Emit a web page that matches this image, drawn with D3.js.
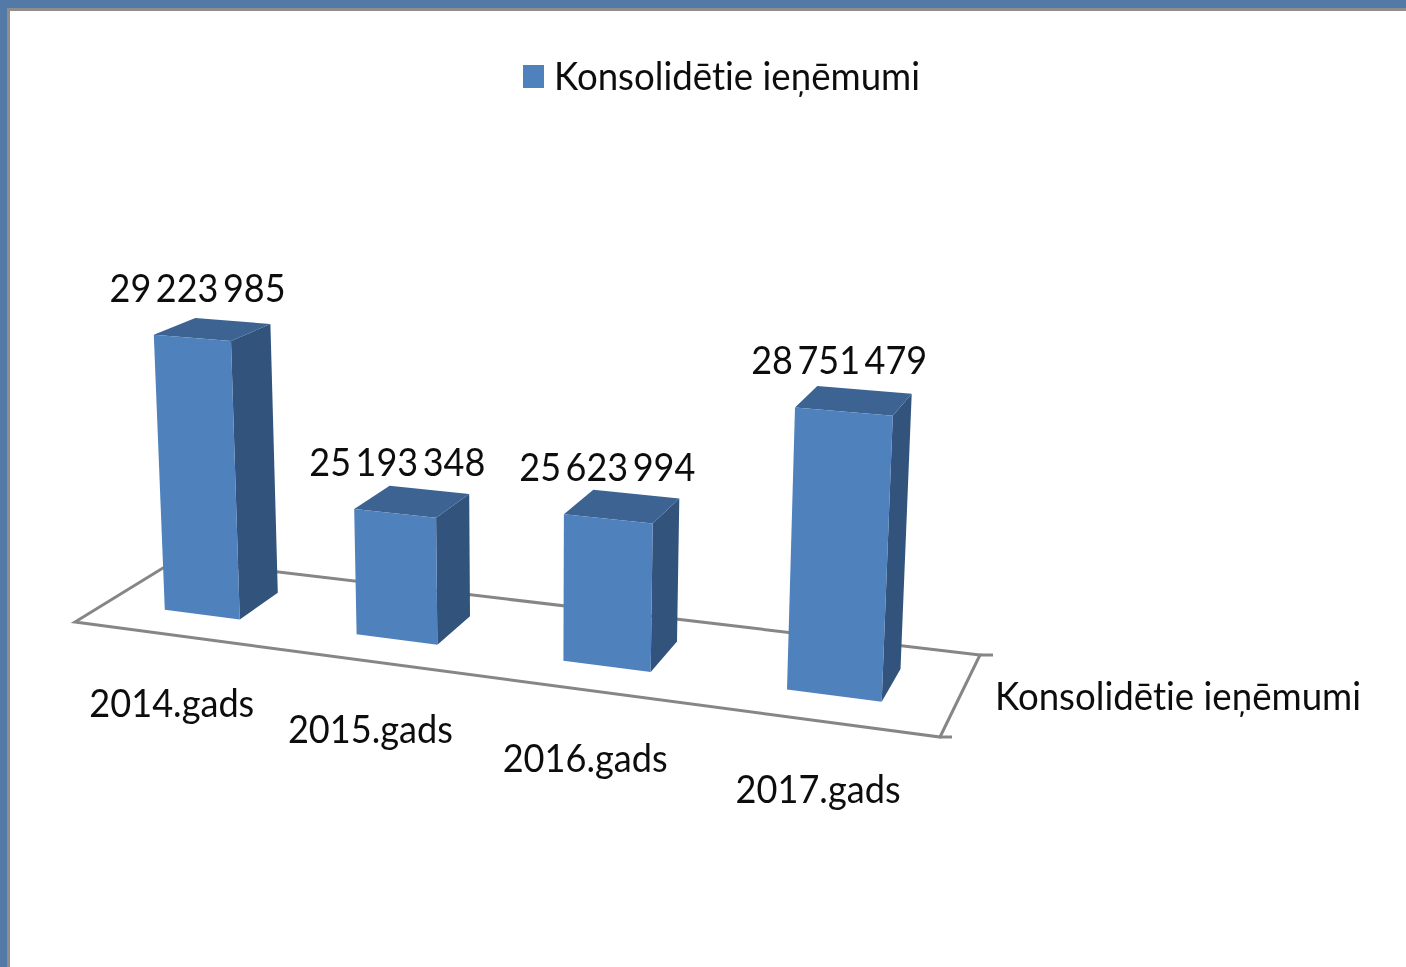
<!DOCTYPE html>
<html lang="lv">
<head>
<meta charset="utf-8">
<title>Konsolidētie ieņēmumi</title>
<script src="https://cdn.jsdelivr.net/npm/d3@7/dist/d3.min.js"></script>
<style>
html,body{margin:0;padding:0;background:#fff;overflow:hidden}
svg{display:block}
text{font-family:Lato,"Open Sans",sans-serif;fill:#111;font-variant-ligatures:none}
</style>
</head>
<body>
<svg id="chart" width="1406" height="967"></svg>
<script>
const seriesName = "Konsolidētie ieņēmumi";
const categories = ["2014.gads", "2015.gads", "2016.gads", "2017.gads"];
const values = [29223985, 25193348, 25623994, 28751479];

const W = 1406, H = 967;
const svg = d3.select("#chart").attr("viewBox", [0, 0, W, H]);
const C = {front:"#4f81bd", top:"#3e6493", side:"#30527c", floor:"#868686", frame:"#5379a6", frameEdge:"#8e8e8e"};

const defs = svg.append("defs");
defs.append("filter").attr("id","soft").attr("x","-5%").attr("y","-5%").attr("width","110%").attr("height","110%")
  .append("feGaussianBlur").attr("stdDeviation",0.7);

// page frame
svg.append("rect").attr("width",W).attr("height",H).attr("fill",C.frame);
svg.append("rect").attr("x",7).attr("y",8).attr("width",W).attr("height",H).attr("fill",C.frameEdge);
svg.append("rect").attr("x",10).attr("y",11).attr("width",W).attr("height",H).attr("fill","#fff");

// floor plane: unit square (u along categories, w into depth) -> screen
const quad = [[75,622],[940,737],[980,655],[176,560]];
function homography(q){
  const [[x0,y0],[x1,y1],[x2,y2],[x3,y3]] = q;
  const dx1=x1-x2, dx2=x3-x2, sx=x0-x1+x2-x3, dy1=y1-y2, dy2=y3-y2, sy=y0-y1+y2-y3;
  const den=dx1*dy2-dx2*dy1, g=(sx*dy2-dx2*sy)/den, h=(dx1*sy-sx*dy1)/den;
  const a=x1-x0+g*x1, b=x3-x0+h*x3, d=y1-y0+g*y1, e=y3-y0+h*y3;
  return (u,w)=>{const k=g*u+h*w+1; return [(a*u+b*w+x0)/k,(d*u+e*w+y0)/k];};
}
const floor = homography(quad);

const xBand = d3.scaleBand().domain(categories).range([0.004,1.002]).paddingInner(0.6).paddingOuter(0.3);
const depth = {front:0.30, back:0.71};
const yVal = d3.scaleLinear().domain([22000000,30000000]).range([0,312]);
const persp = d3.scaleLinear().domain([164,788]).range([0.977,1.072]);
const vp = [530,9766];
const backShrink = 0.96;

function pt(u,w,v){
  const F = floor(u,w);
  const dx=F[0]-vp[0], dy=F[1]-vp[1], len=Math.hypot(dx,dy);
  const wf = w===depth.back ? backShrink : 1;
  const hPx = yVal(v)*persp(F[0])*wf;
  return [F[0]+dx/len*hPx, F[1]+dy/len*hPx];
}
const path = ps => "M"+ps.map(p=>p[0].toFixed(1)+","+p[1].toFixed(1)).join("L")+"Z";

const plot = svg.append("g").attr("filter","url(#soft)");

// floor outline + tick stubs
const flLine = plot.append("g").attr("fill","none").attr("stroke",C.floor).attr("stroke-width",3);
flLine.append("path").attr("d",path(quad));
flLine.append("line").attr("x1",quad[2][0]).attr("y1",quad[2][1]).attr("x2",quad[2][0]+13).attr("y2",quad[2][1]);
flLine.append("line").attr("x1",quad[1][0]).attr("y1",quad[1][1]).attr("x2",quad[1][0]+12).attr("y2",quad[1][1]);

// bars
const rows = categories.map((c,i)=>({c,v:values[i]}));
const bars = plot.selectAll("g.bar").data(rows).join("g").attr("class","bar");
bars.each(function(d){
  const g=d3.select(this), u0=xBand(d.c), u1=u0+xBand.bandwidth(), wF=depth.front, wB=depth.back;
  const fbl=pt(u0,wF,22000000), fbr=pt(u1,wF,22000000), bbr=pt(u1,wB,22000000);
  const ftl=pt(u0,wF,d.v), ftr=pt(u1,wF,d.v), btr=pt(u1,wB,d.v), btl=pt(u0,wB,d.v);
  g.append("path").attr("d",path([ftr,btr,bbr,fbr])).attr("fill",C.side);
  g.append("path").attr("d",path([ftl,btl,btr,ftr])).attr("fill",C.top);
  g.append("path").attr("d",path([ftl,ftr,fbr,fbl])).attr("fill",C.front);
  d.topCx=(ftl[0]+ftr[0]+btl[0]+btr[0])/4;
  d.topY=ftl[1];
});

// text helper: fixed-width text so the condensed look of the source is kept
const txtG = svg.append("g").attr("filter","url(#soft)");
function label(t,x,y,len,anchor){
  return txtG.append("text").text(t).attr("x",x).attr("y",y).attr("font-size",39)
    .attr("text-anchor",anchor||"middle").attr("textLength",len).attr("lengthAdjust","spacingAndGlyphs");
}
const fmt = d3.formatLocale({decimal:",",thousands:"\u2009",grouping:[3],currency:["",""]}).format(",d");

// value labels
rows.forEach(d=>label(fmt(d.v), d.topCx-15, d.topY-33, 176));

// category labels
rows.forEach(d=>{
  const F=floor(xBand(d.c)+xBand.bandwidth()/2,0);
  label(d.c, F[0], F[1]+82, 165);
});

// depth-axis label
label(seriesName, 995, 710, 366, "start");

// legend
svg.append("rect").attr("x",523).attr("y",65).attr("width",21).attr("height",23).attr("fill",C.front).attr("filter","url(#soft)");
label(seriesName, 554, 90, 366, "start");
</script>
</body>
</html>
